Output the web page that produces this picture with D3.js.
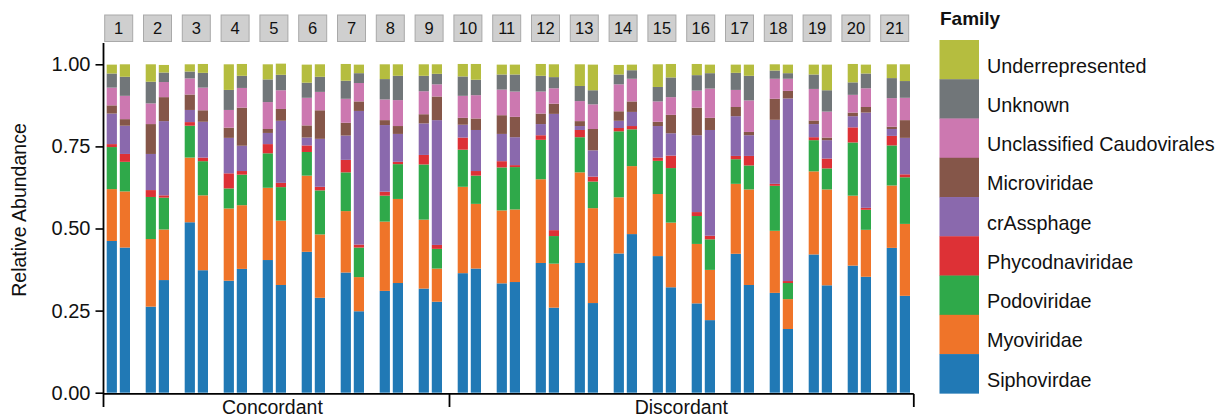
<!DOCTYPE html>
<html>
<head>
<meta charset="utf-8">
<script src="https://cdn.jsdelivr.net/npm/d3@7"></script>
<style>
  html, body { margin: 0; padding: 0; background: #ffffff; }
  svg { display: block; font-family: "Liberation Sans", Arial, Helvetica, sans-serif; }
</style>
</head>
<body>
<script>
// Families, listed from the bottom of each stack to the top
const families = [
  "Siphovirdae", "Myoviridae", "Podoviridae", "Phycodnaviridae", "crAssphage",
  "Microviridae", "Unclassified Caudovirales", "Unknown", "Underrepresented"
];
const familyColors = [
  "#2179b5", "#ef7429", "#2fa94a", "#dd3136", "#8a69ad",
  "#855649", "#cc78b0", "#717679", "#b5bd3f"
];

// Twin pairs (facets) and the two samples of each pair
const pairs = d3.range(1, 22).map(String);
const members = ["A", "B"];
const concordantPairs = pairs.slice(0, 9);
const discordantPairs = pairs.slice(9);
const groupLabels = ["Concordant", "Discordant"];
const yTicks = [0, 0.25, 0.5, 0.75, 1];

// Relative abundance per family, in bar order: 1A, 1B, 2A, 2B, ... 21A, 21B
const siphovirdae = [.462,.442,.262,.343,.519,.373,.341,.377,.404,.328,.429,.289,.366,.248,.310,.334,.317,.277,.364,.378,.333,.337,.395,.259,.395,.273,.424,.483,.416,.321,.272,.221,.423,.328,.304,.194,.421,.327,.387,.353,.441,.295];
const myoviridae = [.158,.171,.206,.154,.197,.228,.220,.194,.220,.196,.232,.193,.187,.104,.211,.256,.210,.101,.263,.197,.222,.221,.255,.134,.276,.289,.171,.207,.189,.197,.181,.153,.213,.291,.189,.091,.253,.292,.213,.143,.190,.219];
const podoviridae = [.128,.090,.128,.097,.097,.104,.061,.093,.105,.102,.072,.134,.118,.090,.079,.106,.168,.060,.113,.086,.131,.129,.120,.084,.107,.081,.201,.112,.101,.166,.085,.093,.075,.073,.137,.049,.095,.064,.162,.061,.122,.142];
const phycodnaviridae = [.009,.024,.021,.007,.011,.011,.046,.011,.028,.013,.020,.011,.038,.009,.012,.007,.029,.012,.037,.014,.019,.006,.014,.018,.022,.015,.010,.010,.010,.038,.012,.011,.010,.029,.006,.006,.009,.030,.046,.006,.029,.009];
const crAssphage = [.093,.086,.110,.226,.037,.109,.108,.077,.034,.189,.024,.146,.074,.407,.203,.085,.096,.380,.039,.125,.083,.085,.034,.354,.012,.080,.022,.043,.096,.068,.234,.322,.121,.063,.195,.556,.040,.056,.034,.290,.021,.111];
const microviridae = [.025,.020,.091,.073,.047,.035,.031,.116,.012,.036,.037,.087,.039,.029,.015,.024,.028,.072,.021,.035,.057,.062,.032,.031,.015,.065,.029,.032,.013,.056,.084,.037,.028,.010,.064,.023,.011,.008,.011,.017,.007,.054];
const unclassifiedCaudovirales = [.054,.071,.063,.046,.049,.069,.054,.060,.082,.057,.084,.056,.073,.056,.063,.079,.070,.037,.067,.071,.078,.077,.067,.047,.061,.075,.082,.069,.062,.054,.052,.089,.052,.096,.061,.037,.096,.079,.054,.057,.087,.068];
const unknown = [.043,.058,.066,.029,.021,.045,.061,.037,.069,.047,.046,.046,.055,.030,.062,.074,.047,.032,.059,.047,.046,.052,.048,.034,.046,.043,.030,.026,.044,.060,.047,.047,.052,.075,.025,.017,.044,.065,.038,.045,.061,.051];
const underrepresented = [.027,.038,.053,.023,.022,.027,.078,.036,.046,.034,.055,.038,.051,.026,.045,.035,.035,.029,.038,.048,.030,.030,.036,.039,.066,.078,.029,.017,.069,.041,.034,.026,.025,.034,.019,.026,.030,.078,.056,.027,.042,.051];

const familyValues = [
  siphovirdae, myoviridae, podoviridae, phycodnaviridae, crAssphage,
  microviridae, unclassifiedCaudovirales, unknown, underrepresented
];

// One row per bar, for d3.stack
const rows = [];
pairs.forEach((p, i) => {
  members.forEach((m, j) => {
    const k = i * 2 + j;
    const row = { pair: p, member: m };
    families.forEach((f, fi) => { row[f] = familyValues[fi][k]; });
    rows.push(row);
  });
});

const W = 1227, H = 419;
const svg = d3.select("body").append("svg").attr("width", W).attr("height", H);

// Scales
const y = d3.scaleLinear().domain([0, 1]).range([392.7, 64.3]);
const xPair = d3.scaleBand().domain(pairs).range([106.7, 910.0]).paddingInner(0.4026).paddingOuter(0);
const xMember = d3.scaleBand().domain(members).range([0, xPair.bandwidth()]).paddingInner(0.22).paddingOuter(0);
const color = d3.scaleOrdinal().domain(families).range(familyColors);
const stripX = d3.scaleLinear().domain([0, pairs.length - 1]).range([104.7, 880.7]);
const stripW = 28;

// Stacked bars
const series = d3.stack().keys(families)(rows);
svg.append("g").selectAll("g")
  .data(series)
  .join("g")
  .attr("fill", d => color(d.key))
  .selectAll("rect")
  .data(d => d)
  .join("rect")
  .attr("x", d => xPair(d.data.pair) + xMember(d.data.member))
  .attr("width", xMember.bandwidth())
  .attr("y", d => y(d[1]))
  .attr("height", d => y(d[0]) - y(d[1]));

// Facet strips
const strips = svg.append("g");
pairs.forEach((p, i) => {
  const sx = stripX(i);
  strips.append("rect")
    .attr("x", sx).attr("y", 15).attr("width", stripW).attr("height", 26.5)
    .attr("fill", "#cfcfcf").attr("stroke", "#a9a9a9").attr("stroke-width", 1);
  strips.append("text")
    .attr("x", sx + stripW / 2).attr("y", 34)
    .attr("text-anchor", "middle").attr("font-size", 16.5).attr("fill", "#111")
    .text(p);
});

// Y axis
const yAxis = svg.append("g").attr("transform", "translate(103.5,0)")
  .call(d3.axisLeft(y).tickValues(yTicks).tickFormat(d3.format(".2f")).tickSize(8).tickPadding(5));
yAxis.select(".domain").remove();
yAxis.selectAll(".tick line").attr("stroke", "#000").attr("stroke-width", 1.6);
yAxis.selectAll(".tick text").attr("font-size", 20).attr("fill", "#111")
  .attr("font-family", "\"Liberation Sans\", Arial, Helvetica, sans-serif");
svg.append("line")
  .attr("x1", 103.5).attr("x2", 103.5).attr("y1", 43).attr("y2", 407)
  .attr("stroke", "#000").attr("stroke-width", 1.8);

svg.append("text")
  .attr("transform", "translate(26,210) rotate(-90)")
  .attr("text-anchor", "middle").attr("font-size", 19.5).attr("fill", "#111")
  .text("Relative Abundance");

// Bottom axis with the two group brackets
const baseY = 393.9;
const groupEdge = 449.5;
const axisRight = 913.8;
svg.append("line")
  .attr("x1", 103.5).attr("x2", axisRight).attr("y1", baseY).attr("y2", baseY)
  .attr("stroke", "#000").attr("stroke-width", 1.8);
[groupEdge, axisRight].forEach(xv => {
  svg.append("line")
    .attr("x1", xv).attr("x2", xv).attr("y1", baseY).attr("y2", 407)
    .attr("stroke", "#000").attr("stroke-width", 1.8);
});
const groupCenters = [
  (stripX(0) + stripX(concordantPairs.length - 1) + stripW) / 2 - 1.5,
  (stripX(concordantPairs.length) + stripX(pairs.length - 1) + stripW) / 2
];
groupLabels.forEach((g, i) => {
  svg.append("text")
    .attr("x", groupCenters[i]).attr("y", 414.3)
    .attr("text-anchor", "middle").attr("font-size", 19.5).attr("fill", "#111")
    .text(g);
});

// Legend, top entry first
const legend = svg.append("g");
legend.append("text")
  .attr("x", 940).attr("y", 25)
  .attr("font-size", 19).attr("font-weight", "bold").attr("fill", "#111")
  .text("Family");
const keyH = 39.26;
const legendOrder = families.slice().reverse();
legendOrder.forEach((f, i) => {
  const ky = 40 + i * keyH;
  legend.append("rect")
    .attr("x", 939.5).attr("y", ky).attr("width", 39.5).attr("height", keyH + 0.3)
    .attr("fill", color(f));
  legend.append("text")
    .attr("x", 987).attr("y", ky + keyH / 2 + 13)
    .attr("font-size", 19.8).attr("fill", "#111")
    .text(f);
});
</script>
</body>
</html>
